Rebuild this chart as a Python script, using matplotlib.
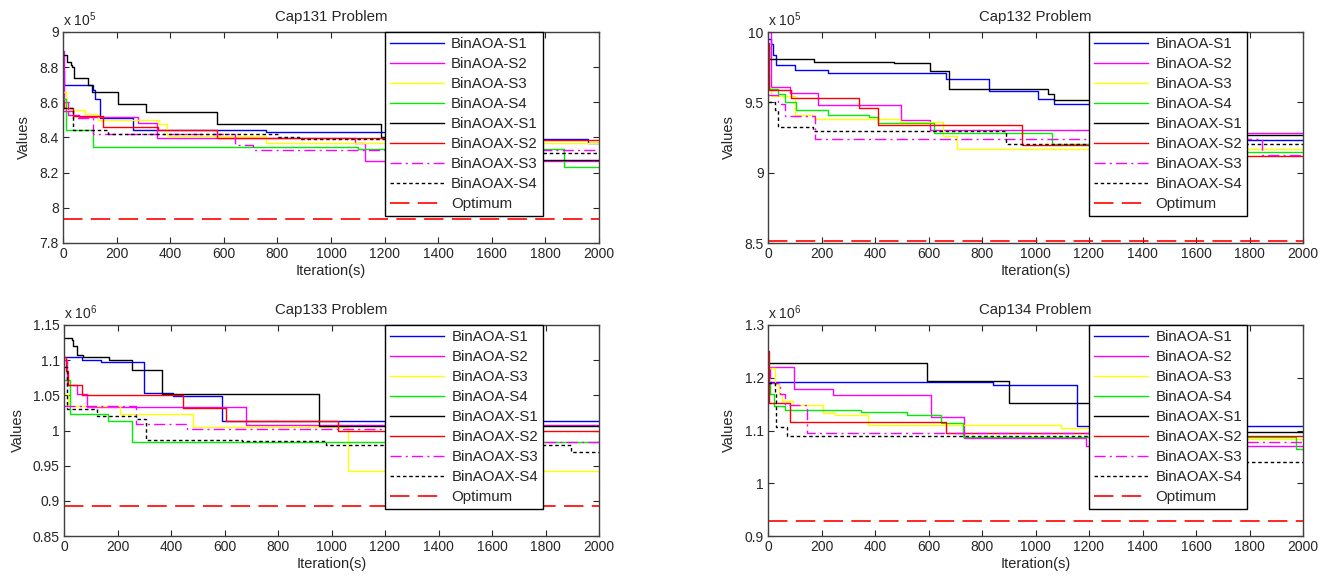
import matplotlib
matplotlib.use("Agg")
import matplotlib.pyplot as plt
from matplotlib.ticker import FuncFormatter, FixedLocator

plt.rcParams['font.family'] = ['Liberation Sans', 'DejaVu Sans']
plt.rcParams['mathtext.fontset'] = 'custom'
plt.rcParams['mathtext.rm'] = 'Liberation Sans'
plt.rcParams['lines.scale_dashes'] = False

series_names = ['BinAOA-S1', 'BinAOA-S2', 'BinAOA-S3', 'BinAOA-S4',
                'BinAOAX-S1', 'BinAOAX-S2', 'BinAOAX-S3', 'BinAOAX-S4']
titles = ['Cap131 Problem', 'Cap132 Problem', 'Cap133 Problem', 'Cap134 Problem']
exponents = [5, 5, 6, 6]
max_iter = 2000

# Cap131 (x 1e5)
cap131_iters = [
    [0, 5, 112, 118, 137, 263, 758, 1500, 1960],
    [0, 5, 20, 60, 280, 350, 1090, 1125],
    [0, 12, 81, 130, 360, 388, 758],
    [0, 12, 112, 1100, 1870],
    [0, 15, 28, 35, 40, 95, 110, 205, 310, 575, 1186, 1500],
    [0, 5, 37, 149, 354, 574, 1300],
    [0, 37, 112, 640, 708],
    [0, 37, 168, 801, 880, 1500],
]
cap131_vals = [
    [8.78, 8.70, 8.67, 8.62, 8.51, 8.44, 8.43, 8.39, 8.37],
    [8.89, 8.60, 8.53, 8.515, 8.48, 8.395, 8.37, 8.268],
    [8.66, 8.555, 8.536, 8.50, 8.476, 8.408, 8.366],
    [8.62, 8.442, 8.347, 8.336, 8.234],
    [8.87, 8.83, 8.815, 8.80, 8.74, 8.70, 8.66, 8.59, 8.546, 8.478, 8.40, 8.272],
    [8.60, 8.565, 8.52, 8.46, 8.44, 8.395, 8.386],
    [8.55, 8.51, 8.42, 8.357, 8.328],
    [8.57, 8.445, 8.42, 8.40, 8.39, 8.31],
]
cap131_opt = 7.934

# Cap132 (x 1e5)
cap132_iters = [
    [0, 12, 18, 31, 102, 224, 666, 828, 1008, 1068, 1500],
    [0, 12, 81, 187, 498, 606, 1500],
    [0, 10, 100, 172, 492, 656, 707],
    [0, 5, 37, 62, 103, 224, 376, 411, 622, 1060, 1500],
    [0, 5, 172, 470, 607, 675, 1045, 1070, 1500],
    [0, 5, 87, 340, 411, 950, 1500],
    [0, 37, 62, 174, 1847],
    [0, 25, 37, 168, 890],
]
cap132_vals = [
    [9.95, 9.917, 9.834, 9.763, 9.727, 9.71, 9.663, 9.58, 9.526, 9.486, 9.232],
    [10.0, 9.61, 9.569, 9.479, 9.372, 9.30, 9.28],
    [9.60, 9.543, 9.41, 9.384, 9.36, 9.258, 9.166],
    [9.70, 9.597, 9.56, 9.50, 9.443, 9.408, 9.396, 9.355, 9.285, 9.206, 9.145],
    [9.90, 9.81, 9.787, 9.78, 9.72, 9.597, 9.557, 9.52, 9.268],
    [9.92, 9.585, 9.53, 9.462, 9.336, 9.20, 9.118],
    [9.55, 9.486, 9.40, 9.237, 9.125],
    [9.50, 9.443, 9.325, 9.296, 9.202],
]
cap132_opt = 8.515

# Cap133 (x 1e6)
cap133_iters = [
    [0, 66, 137, 299, 408, 591],
    [0, 10, 47, 85, 682],
    [0, 16, 209, 483, 1062],
    [0, 22, 166, 256],
    [0, 29, 35, 50, 70, 169, 256, 368, 954],
    [0, 7, 16, 66, 446, 604, 1025],
    [0, 271, 458, 1500],
    [0, 10, 125, 271, 306, 664, 981, 1895],
]
cap133_vals = [
    [1.105, 1.10, 1.097, 1.053, 1.049, 1.014],
    [1.10, 1.064, 1.052, 1.033, 1.008],
    [1.052, 1.035, 1.024, 1.005, 0.942],
    [1.072, 1.024, 1.014, 0.983],
    [1.132, 1.129, 1.12, 1.107, 1.104, 1.10, 1.086, 1.052, 1.006],
    [1.105, 1.085, 1.064, 1.051, 1.032, 1.014, 0.999],
    [1.035, 1.009, 1.002, 0.983],
    [1.09, 1.03, 1.021, 1.016, 0.987, 0.985, 0.979, 0.970],
]
cap133_opt = 0.893

# Cap134 (x 1e6)
cap134_iters = [
    [0, 840, 1154],
    [0, 6, 97, 243, 610, 734, 1190],
    [0, 27, 40, 52, 93, 205, 249, 373, 1095, 1500],
    [0, 6, 22, 62, 348, 520, 645, 728, 1972],
    [0, 595, 902, 1500],
    [0, 3, 81, 666, 1500],
    [0, 44, 62, 147, 1500],
    [0, 25, 31, 72, 1500],
]
cap134_vals = [
    [1.192, 1.187, 1.108],
    [1.20, 1.22, 1.178, 1.167, 1.125, 1.085, 1.0706],
    [1.218, 1.188, 1.169, 1.156, 1.148, 1.133, 1.13, 1.11, 1.104, 1.083],
    [1.19, 1.17, 1.147, 1.139, 1.136, 1.13, 1.115, 1.088, 1.064],
    [1.228, 1.194, 1.152, 1.097],
    [1.25, 1.153, 1.117, 1.096, 1.0895],
    [1.19, 1.169, 1.148, 1.096, 1.078],
    [1.19, 1.172, 1.106, 1.09, 1.040],
]
cap134_opt = 0.929

ylims = [(7.8, 9.0), (8.5, 10.0), (0.85, 1.15), (0.9, 1.3)]
yticks = [
    [7.8, 8.0, 8.2, 8.4, 8.6, 8.8, 9.0],
    [8.5, 9.0, 9.5, 10.0],
    [0.85, 0.9, 0.95, 1.0, 1.05, 1.1, 1.15],
    [0.9, 1.0, 1.1, 1.2, 1.3],
]

styles = [
    dict(color='#0000ff', ls='-'),
    dict(color='#ff00ff', ls='-'),
    dict(color='#ffff00', ls='-'),
    dict(color='#00ee00', ls='-'),
    dict(color='#000000', ls='-'),
    dict(color='#ff0000', ls='-'),
    dict(color='#ff00ff', dashes=(8, 3, 1.5, 3)),
    dict(color='#000000', dashes=(2.5, 2)),
]

W, H = 1338, 579
fig = plt.figure(figsize=(W / 100, H / 100), dpi=100)
boxes = [(63, 32, 599, 243), (768, 32, 1303, 243),
         (64, 325, 599, 536), (768, 325, 1303, 536)]

all_iters = [cap131_iters, cap132_iters, cap133_iters, cap134_iters]
all_vals = [cap131_vals, cap132_vals, cap133_vals, cap134_vals]
all_opt = [cap131_opt, cap132_opt, cap133_opt, cap134_opt]

axcol = '#262626'
for k in range(4):
    x0, y0, x1, y1 = boxes[k]
    ax = fig.add_axes([x0 / W, 1 - y1 / H, (x1 - x0) / W, (y1 - y0) / H])
    handles = []
    for i in range(8):
        xs = list(all_iters[k][i]) + [max_iter]
        ys = list(all_vals[k][i]) + [all_vals[k][i][-1]]
        h, = ax.step(xs, ys, where='post', lw=1.0, label=series_names[i], **styles[i])
        handles.append(h)
    ho, = ax.plot([0, max_iter], [all_opt[k], all_opt[k]], color='#ff0000', lw=1.2,
                  dashes=(14, 6), label='Optimum')
    handles.append(ho)
    ax.set_xlim(0, max_iter)
    ax.set_ylim(*ylims[k])
    ax.set_xticks(range(0, 2001, 200))
    ax.yaxis.set_major_locator(FixedLocator(yticks[k]))
    ax.yaxis.set_major_formatter(FuncFormatter(lambda v, p: '%g' % round(v, 4)))
    ax.tick_params(direction='in', length=4, width=0.8, top=True, right=True,
                   labelsize=10, colors=axcol, pad=3)
    for s in ax.spines.values():
        s.set_color('#404040')
        s.set_linewidth(1.0)
    ax.set_title(titles[k], fontsize=10.8, color=axcol, pad=8)
    ax.set_xlabel('Iteration(s)', fontsize=10.5, color=axcol, labelpad=2)
    ax.set_ylabel('Values', fontsize=10.5, color=axcol, labelpad=6)
    ax.text(0.0, 1.015, r'x 10$^{%d}$' % exponents[k], transform=ax.transAxes,
            fontsize=10, color=axcol, ha='left', va='bottom')
    leg = ax.legend(handles=handles, loc='upper right', bbox_to_anchor=(0.895, 1.0),
                    borderaxespad=0, fontsize=10.8, frameon=True, fancybox=False,
                    edgecolor='#000000', framealpha=1, handlelength=3.6,
                    handletextpad=0.5, labelspacing=0.40, borderpad=0.32)
    leg.get_frame().set_linewidth(1.0)
    for t in leg.get_texts():
        t.set_color(axcol)

fig.savefig('out.png', dpi=100)
